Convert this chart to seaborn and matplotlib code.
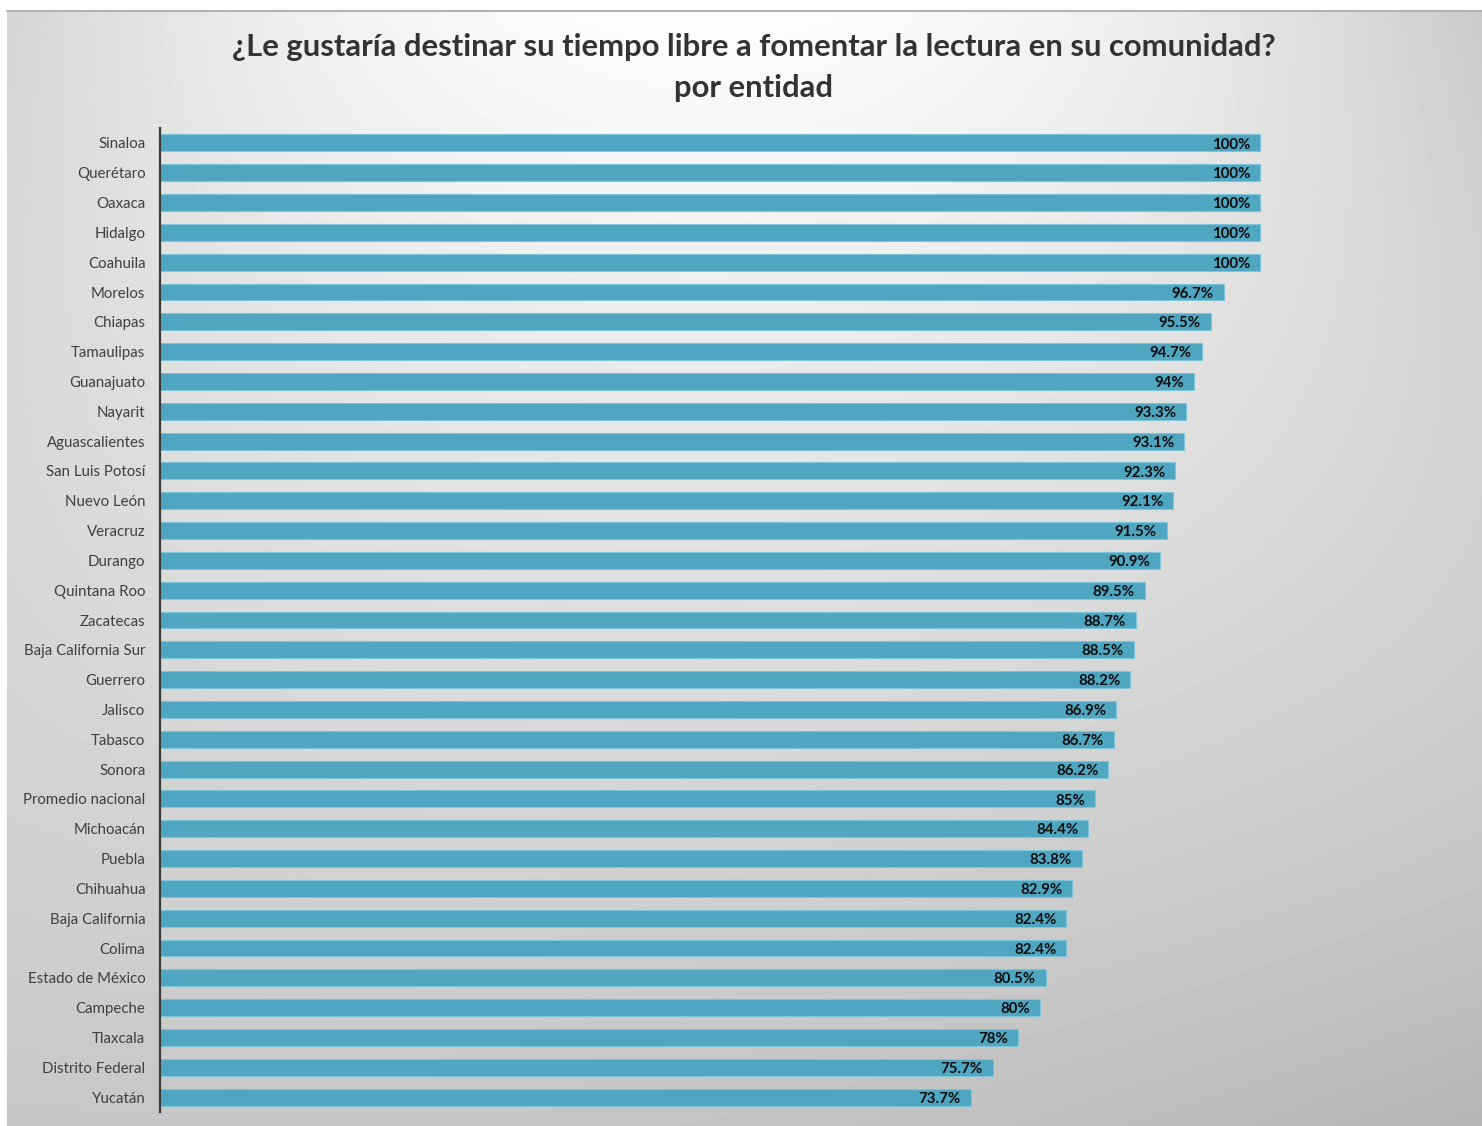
import numpy as np
import pandas as pd
import matplotlib
matplotlib.use("Agg")
import matplotlib.pyplot as plt
import seaborn as sns

# Survey results by state (percent answering yes)
entidades = [
    "Sinaloa", "Querétaro", "Oaxaca", "Hidalgo", "Coahuila", "Morelos",
    "Chiapas", "Tamaulipas", "Guanajuato", "Nayarit", "Aguascalientes",
    "San Luis Potosí", "Nuevo León", "Veracruz", "Durango", "Quintana Roo",
    "Zacatecas", "Baja California Sur", "Guerrero", "Jalisco", "Tabasco",
    "Sonora", "Promedio nacional", "Michoacán", "Puebla", "Chihuahua",
    "Baja California", "Colima", "Estado de México", "Campeche", "Tlaxcala",
    "Distrito Federal", "Yucatán",
]
porcentajes = [
    100, 100, 100, 100, 100, 96.7,
    95.5, 94.7, 94, 93.3, 93.1,
    92.3, 92.1, 91.5, 90.9, 89.5,
    88.7, 88.5, 88.2, 86.9, 86.7,
    86.2, 85, 84.4, 83.8, 82.9,
    82.4, 82.4, 80.5, 80, 78,
    75.7, 73.7,
]
titulo = "¿Le gustaría destinar su tiempo libre a fomentar la lectura en su comunidad?"
subtitulo = "por entidad"

df = pd.DataFrame({"entidad": entidades, "pct": porcentajes})

sns.set_theme(style="white")
plt.rcParams["font.family"] = ["Lato", "DejaVu Sans"]

W, H = 1482, 1126
fig = plt.figure(figsize=(W / 100, H / 100), dpi=100, facecolor="white")

# Grey panel with a soft light spot under the title:
# smooth quadratic surface through a 3x3 grid of grey levels
pw, ph = W - 7, H - 10
gx = np.array([0.0, 0.47, 1.0])
gy = np.array([0.0, 0.5, 1.0])
levels = np.array([
    [212, 253, 202],
    [214, 224, 208],
    [198, 196, 180],
], dtype=float)


def lagrange(nodes, t):
    out = []
    for j in range(3):
        b = np.ones_like(t)
        for m in range(3):
            if m != j:
                b = b * (t - nodes[m]) / (nodes[j] - nodes[m])
        out.append(b)
    return out


tx = np.linspace(0, 1, pw)
ty = np.linspace(0, 1, ph)
bx = lagrange(gx, tx)
by = lagrange(gy, ty)
surf = np.zeros((ph, pw))
for r in range(3):
    for c in range(3):
        surf += levels[r, c] * np.outer(by[r], bx[c])
shade = np.clip(surf, 170, 253) / 255.0

bg = fig.add_axes([7 / W, 0, pw / W, ph / H], zorder=0)
bg.imshow(shade, cmap="gray", vmin=0, vmax=1, aspect="auto",
          interpolation="bilinear")
bg.set_axis_off()
fig.add_artist(plt.Line2D([7 / W, 1], [1 - 10.5 / H, 1 - 10.5 / H],
                          color="#b3b3b3", linewidth=1.5))

# Bar chart
ax = fig.add_axes([160 / W, 14 / H, 1300 / W, (1112 - 128) / H], zorder=1)
ax.patch.set_alpha(0)
sns.barplot(data=df, y="entidad", x="pct", orient="h", color="#4fa6c1",
            width=0.57, edgecolor="#7fc4d8", linewidth=0.8, saturation=1,
            ax=ax)
ax.set_xlim(0, 1300 / 11)
ax.set_ylim(len(entidades) - 0.5, -0.5)
ax.set_xlabel("")
ax.set_ylabel("")
ax.set_xticks([])
ax.tick_params(axis="y", length=0, pad=10.5, labelsize=10.8, labelcolor="#3f3f3f")
for side in ("top", "right", "bottom"):
    ax.spines[side].set_visible(False)
ax.spines["left"].set_color("#3a3a3a")
ax.spines["left"].set_linewidth(1.6)

for i, v in enumerate(porcentajes):
    ax.annotate(f"{v:g}%", xy=(v, i), xytext=(-7, -1.2),
                textcoords="offset points", ha="right", va="center",
                fontsize=10.8, fontweight="bold", color="#0d0d0d")

fig.text(754 / W, 1 - 47 / H, titulo, ha="center", va="center",
         fontsize=22.3, fontweight="bold", color="#333333")
fig.text(754 / W, 1 - 87.5 / H, subtitulo, ha="center", va="center",
         fontsize=22.3, fontweight="bold", color="#333333")

fig.savefig("out.png", dpi=100, facecolor="white")
